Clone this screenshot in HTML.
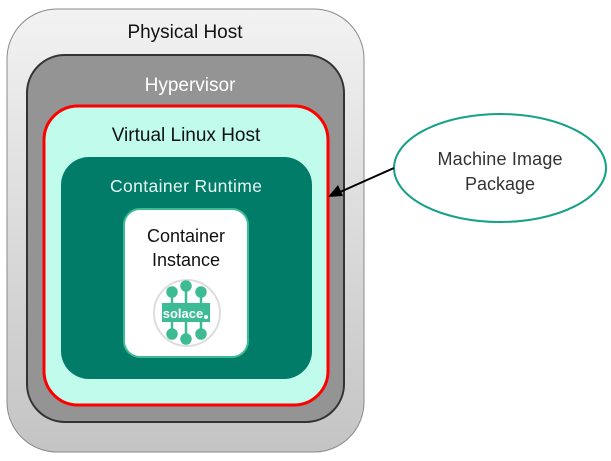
<!DOCTYPE html>
<html><head><meta charset="utf-8"><style>
html,body{margin:0;padding:0;background:#fff;width:611px;height:461px;overflow:hidden}
svg{display:block}
text{font-family:"Liberation Sans",sans-serif}
</style></head><body>
<svg width="611" height="461" viewBox="0 0 611 461" xmlns="http://www.w3.org/2000/svg">
<defs>
<linearGradient id="g1" x1="0" y1="0" x2="0" y2="1"><stop offset="0" stop-color="#f2f2f2"/><stop offset="1" stop-color="#c4c4c4"/></linearGradient>
</defs>
<rect x="7" y="9" width="357" height="443" rx="50" fill="url(#g1)" stroke="#8a8a8a" stroke-width="1"/>
<text x="185" y="38" font-size="19" text-anchor="middle" fill="#111">Physical Host</text>
<rect x="27" y="55" width="317" height="367" rx="38" fill="#949494" stroke="#333" stroke-width="2"/>
<text x="190" y="91" font-size="19" text-anchor="middle" fill="#fff">Hypervisor</text>
<rect x="44" y="106" width="284" height="299" rx="34" fill="#c0fbec" stroke="#ff0000" stroke-width="3"/>
<text x="186" y="141" font-size="19" text-anchor="middle" fill="#111">Virtual Linux Host</text>
<rect x="61" y="157" width="251" height="222" rx="28" fill="#007c69"/>
<text x="186" y="192" font-size="17.5" text-anchor="middle" fill="#e8f5f2" textLength="152">Container Runtime</text>
<rect x="124" y="209" width="124" height="148" rx="16" fill="#fff" stroke="#3dbb95" stroke-width="2"/>
<text x="186" y="242" font-size="18" text-anchor="middle" fill="#111">Container</text>
<text x="186" y="266" font-size="18" text-anchor="middle" fill="#111">Instance</text>
<circle cx="187" cy="313" r="33" fill="#fff" stroke="#ddd" stroke-width="2"/>
<g stroke="#3dbb95" stroke-width="2.5" fill="#3dbb95">
<line x1="172" y1="292" x2="172" y2="333"/><line x1="186" y1="286" x2="186" y2="338"/><line x1="201" y1="292" x2="201" y2="333"/>
<circle cx="172" cy="292" r="4.5"/><circle cx="186" cy="286" r="4.5"/><circle cx="201" cy="292" r="4.5"/>
<circle cx="172" cy="334" r="4.5"/><circle cx="186" cy="339" r="4.5"/><circle cx="201" cy="334" r="4.5"/>
</g>
<rect x="162" y="303" width="48" height="19" fill="#3dbb95"/>
<text x="183" y="318" font-size="13" font-weight="bold" text-anchor="middle" fill="#fff" font-family="Liberation Serif,serif">solace</text>
<circle cx="206" cy="317" r="2" fill="#fff"/>
<ellipse cx="500" cy="168" rx="106" ry="54" fill="#fff" stroke="#15a088" stroke-width="2"/>
<text x="500" y="165" font-size="18" text-anchor="middle" fill="#333" textLength="125">Machine Image</text>
<text x="500" y="190" font-size="18" text-anchor="middle" fill="#333">Package</text>
<line x1="394" y1="168" x2="340" y2="192" stroke="#000" stroke-width="2"/>
<polygon points="328,197 338,185 343,196" fill="#000"/>
</svg>
</body></html>
